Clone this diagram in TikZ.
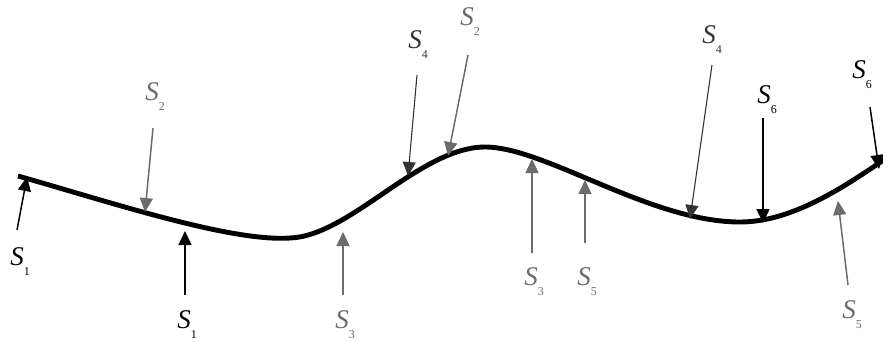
\documentclass[tikz,border=0pt]{standalone}
\usepackage{fontspec}
\setmainfont{Liberation Serif}
\usetikzlibrary{arrows.meta}

\definecolor{loadgray}{gray}{0.42}
\definecolor{loaddark}{gray}{0.2}
\newcommand{\slab}[1]{\textit{S}\raisebox{-0.8ex}{\fontsize{12}{13}\selectfont #1}}

\begin{document}
\begin{tikzpicture}[x=1pt, y=-1pt, font=\fontsize{27}{30}\selectfont,
  load/.style={line width=1.5pt, -{Triangle[length=14pt, width=13pt]}},
  blackload/.style={load, black},
  grayload/.style={load, loadgray},
  darkload/.style={load, loaddark, line width=1.1pt}]
  \useasboundingbox (0,0) rectangle (883,341);

  % the beam
  \draw[line width=4.9pt] (18,176) .. controls (110,202) and (230,242) .. (290,238)
    .. controls (350,236) and (420,147) .. (485,147)
    .. controls (545,147) and (650,222) .. (740,222)
    .. controls (790,222) and (840,190) .. (885,159);

  % arrow tails and heads
  \coordinate (t1) at (17,230);   \coordinate (h1) at (27,177);
  \coordinate (t2) at (185,295);  \coordinate (h2) at (185,231);
  \coordinate (t3) at (153,128);  \coordinate (h3) at (145,212);
  \coordinate (t4) at (343,295);  \coordinate (h4) at (343,232);
  \coordinate (t5) at (417,75);   \coordinate (h5) at (408,176);
  \coordinate (t6) at (468,55);   \coordinate (h6) at (448,156);
  \coordinate (t7) at (532,253);  \coordinate (h7) at (532,159);
  \coordinate (t8) at (585,243);  \coordinate (h8) at (585,180);
  \coordinate (t9) at (712,65);   \coordinate (h9) at (690,219);
  \coordinate (t10) at (763,118); \coordinate (h10) at (763,223);
  \coordinate (t11) at (870,107); \coordinate (h11) at (879,169);
  \coordinate (t12) at (848,285); \coordinate (h12) at (838,201);

  \draw[blackload] (t1)--(h1);
  \draw[blackload] (t2)--(h2);
  \draw[grayload] (t3)--(h3);
  \draw[grayload] (t4)--(h4);
  \draw[darkload] (t5)--(h5);
  \draw[grayload] (t6)--(h6);
  \draw[grayload] (t7)--(h7);
  \draw[grayload] (t8)--(h8);
  \draw[darkload] (t9)--(h9);
  \draw[blackload] (t10)--(h10);
  \draw[blackload] (t11)--(h11);
  \draw[grayload] (t12)--(h12);

  \node (s1a) at (20,262) {\slab{1}};
  \node (s1b) at (187,325) {\slab{1}};
  \node[loadgray] (s2a) at (155,97) {\slab{2}};
  \node[loadgray] (s3a) at (345,325) {\slab{3}};
  \node[loaddark] (s4a) at (418,45) {\slab{4}};
  \node[loadgray] (s2b) at (470,22) {\slab{2}};
  \node[loadgray] (s3b) at (534,282) {\slab{3}};
  \node[loadgray] (s5a) at (587,282) {\slab{5}};
  \node[loaddark] (s4b) at (712,40) {\slab{4}};
  \node (s6a) at (767,100) {\slab{6}};
  \node (s6b) at (862,75) {\slab{6}};
  \node[loadgray] (s5b) at (852,315) {\slab{5}};
\end{tikzpicture}
\end{document}
